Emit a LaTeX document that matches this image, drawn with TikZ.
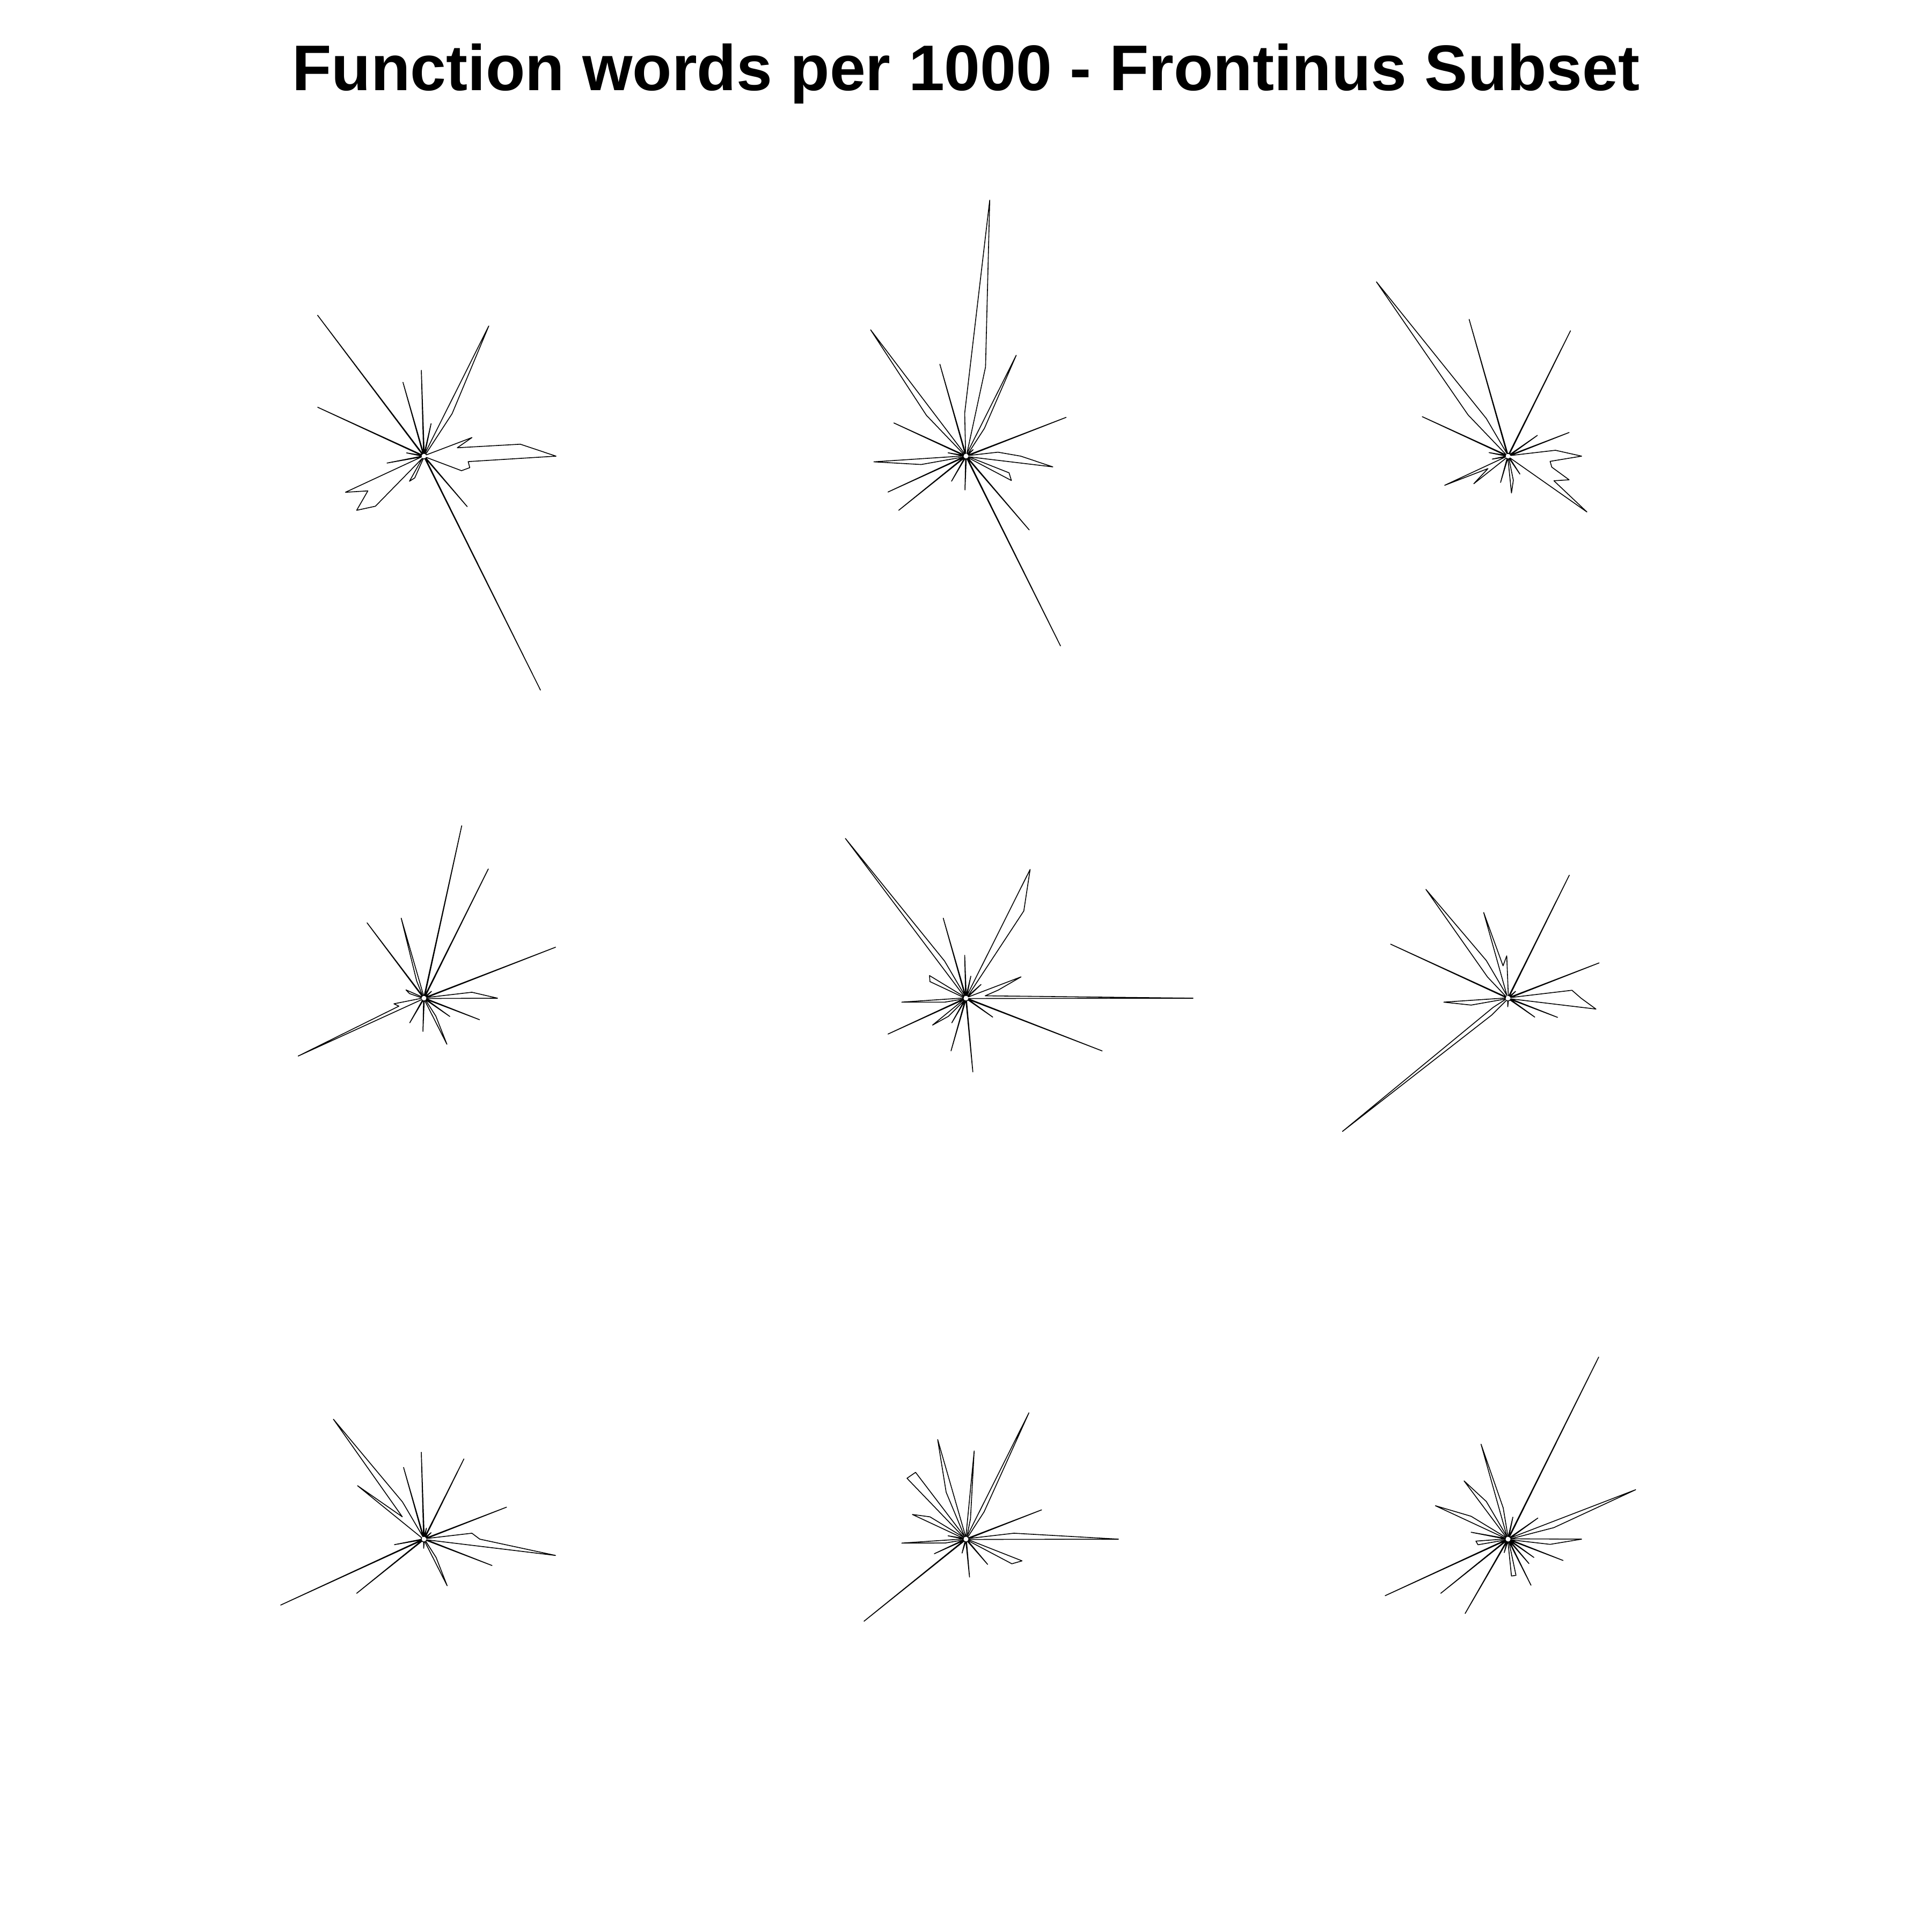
\documentclass[tikz,border=0pt]{standalone}
\usepackage{fontspec}
\setsansfont{Liberation Sans}

\begin{document}
\begin{tikzpicture}[line join=round,star/.style={draw=black,line width=0.45pt},title/.style={font=\sffamily\bfseries\fontsize{34.2}{41}\selectfont,anchor=base,inner sep=0pt}]%
\useasboundingbox (0,0) rectangle (36,36);
\draw (18,34.31) node[title] (T) {Function words per 1000 - Frontinus Subset};
% centres of the stars, three by three
\coordinate (S1) at (7.9,27.5);
\coordinate (S2) at (18,27.5);
\coordinate (S3) at (28.1,27.5);
\coordinate (S4) at (7.9,17.4);
\coordinate (S5) at (18,17.4);
\coordinate (S6) at (28.1,17.4);
\coordinate (S7) at (7.9,7.32);
\coordinate (S8) at (18,7.32);
\coordinate (S9) at (28.1,7.32);
% 51 rays per star (360/51 = 7.05882 degrees apart), ray 0 points east
\draw[star,shift={(S1)}] (0:2.46) \foreach \r [count=\k] in {1.81,0.64,0.96,.05,.05,.05,.05,0.95,2.71,.05,0.62,.05,1.60,.05,1.43,.05,.05,3.29,.05,.05,.05,2.18,.05,0.33,.05,.05,0.70,.05,1.61,1.23,1.61,1.30,.05,0.54,0.44,.05,.05,.05,.05,.05,.05,4.87,.05,1.24,.05,.05,.05,0.75,0.88,0.83} {-- ({7.05882*\k}:\r)} -- cycle;
\draw[star,shift={(S2)}] (0:1.02) \foreach \r [count=\k] in {0.60,.05,2.00,.05,.05,0.18,.05,0.62,2.10,.05,1.70,4.79,0.80,.05,1.78,.05,.05,2.95,1.06,.05,.05,1.48,.05,0.34,.05,1.72,0.85,.05,1.60,.05,1.61,.05,.05,0.54,.05,.05,.05,0.63,.05,.05,.05,3.95,.05,1.81,.05,.05,0.96,0.86,.05,1.63} {-- ({7.05882*\k}:\r)} -- cycle;
\draw[star,shift={(S3)}] (0:1.37) \foreach \r [count=\k] in {0.89,.05,1.22,.05,0.67,.05,.05,.05,2.61,.05,.05,.05,.05,.05,2.65,.05,0.81,4.07,1.07,.05,.05,1.76,.05,0.36,.05,.05,0.30,.05,1.30,0.44,0.82,.05,.05,.05,.05,0.51,.05,.05,0.69,0.46,.05,.05,0.40,.05,.05,1.80,0.97,1.22,0.84,0.79} {-- ({7.05882*\k}:\r)} -- cycle;
\draw[star,shift={(S4)}] (0:1.37) \foreach \r [count=\k] in {0.90,.05,2.63,.05,.05,0.19,.05,.05,2.69,.05,3.29,.05,.05,.05,1.55,0.35,.05,1.76,.05,.05,.05,0.37,0.28,.05,.05,.05,0.57,0.49,2.58,.05,.05,.05,.05,0.53,.05,.05,.05,0.62,.05,.05,.05,0.96,0.40,.05,.05,0.59,.05,1.11,.05,.05} {-- ({7.05882*\k}:\r)} -- cycle;
\draw[star,shift={(S5)}] (0:4.23) \foreach \r [count=\k] in {0.36,0.62,1.10,.05,.05,0.38,.05,1.95,2.68,.05,0.42,.05,0.80,.05,1.55,.05,0.80,3.73,.05,.05,0.80,0.74,.05,.05,.05,1.20,0.40,.05,1.60,.05,0.80,0.47,.05,0.53,.05,1.02,.05,.05,1.38,.05,.05,.05,.05,.05,.05,0.61,.05,2.72,.05,.05} {-- ({7.05882*\k}:\r)} -- cycle;
\draw[star,shift={(S6)}] (0:1.36) \foreach \r [count=\k] in {1.20,.05,1.82,.05,.05,0.19,.05,.05,2.56,.05,.05,.05,0.79,0.61,1.66,.05,0.81,2.54,0.55,.05,.05,2.41,.05,.05,.05,1.20,0.70,.05,.05,0.33,3.96,0.44,.05,.05,.05,.05,.05,0.16,.05,.05,.05,.05,.05,.05,.05,0.61,.05,0.99,.05,1.65} {-- ({7.05882*\k}:\r)} -- cycle;
\draw[star,shift={(S7)}] (0:1.04) \foreach \r [count=\k] in {0.90,.05,1.65,.05,.05,0.18,.05,.05,1.67,.05,0.21,.05,1.62,.05,1.39,.05,0.80,2.80,0.58,1.59,.05,.05,.05,.05,.05,.05,0.56,.05,2.94,.05,1.61,.05,.05,.05,.05,.05,.05,0.17,.05,.05,.05,0.97,0.41,.05,.05,.05,.05,1.36,.05,2.47} {-- ({7.05882*\k}:\r)} -- cycle;
\draw[star,shift={(S8)}] (0:2.84) \foreach \r [count=\k] in {0.90,.05,1.51,.05,.05,.05,.05,0.61,2.63,.05,0.39,1.65,.05,.05,1.93,0.95,.05,1.56,1.58,.05,0.79,1.10,.05,0.34,.05,1.20,0.39,.05,0.65,.05,2.44,.05,.05,.05,.05,0.27,.05,.05,0.71,.05,.05,.05,.05,0.62,.05,.05,0.97,1.12,.05,.05} {-- ({7.05882*\k}:\r)} -- cycle;
\draw[star,shift={(S9)}] (0:1.37) \foreach \r [count=\k] in {.05,0.88,2.55,.05,0.68,.05,.05,.05,3.79,.05,0.42,.05,.05,0.59,1.84,.05,0.81,1.36,.05,.05,0.81,1.49,.05,0.70,.05,0.60,0.57,.05,2.52,.05,1.61,.05,.05,1.60,.05,0.26,.05,.05,0.69,0.69,.05,0.96,.05,0.60,.05,0.59,.05,1.10,.05,0.79} {-- ({7.05882*\k}:\r)} -- cycle;
\end{tikzpicture}
\end{document}
